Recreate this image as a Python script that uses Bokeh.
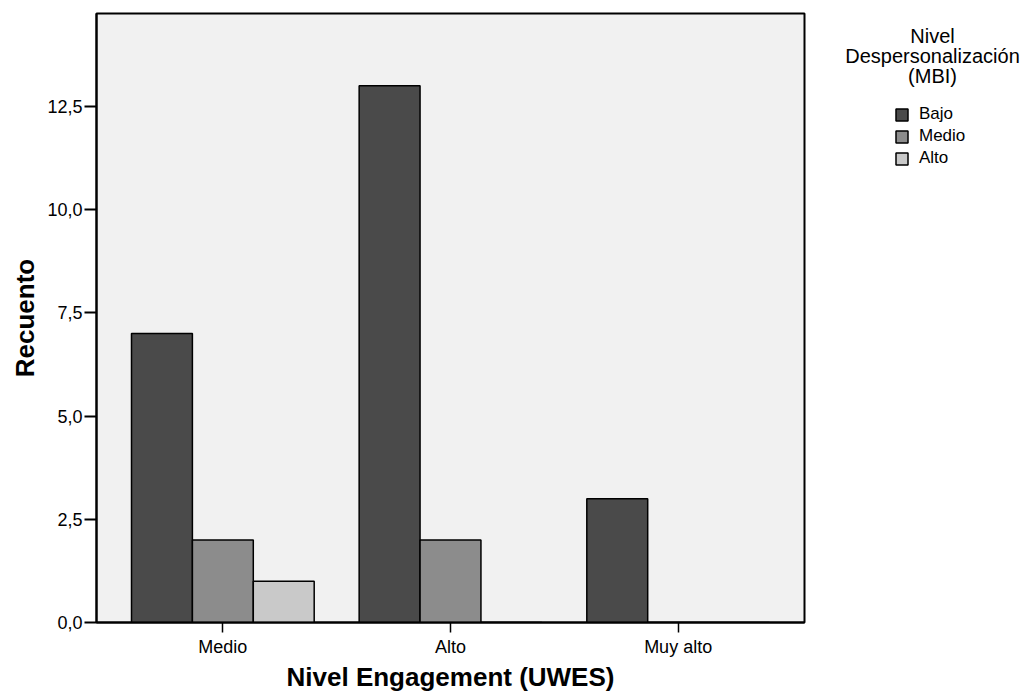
from bokeh.plotting import figure
from bokeh.layouts import row
from bokeh.models import (ColumnDataSource, FactorRange, Range1d, FixedTicker,
                          CustomJSTickFormatter, Legend, LegendItem, Label)
from bokeh.transform import dodge
from bokeh.embed import file_html
from bokeh.resources import INLINE

# ---- data ----
categories = ["Medio", "Alto", "Muy alto"]
bajo = [7, 13, 3]
medio = [2, 2, 0]
alto = [1, 0, 0]
series_names = ["Bajo", "Medio", "Alto"]
y_ticks = [0, 2.5, 5, 7.5, 10, 12.5]
legend_title = ["Nivel", "Despersonalización", "(MBI)"]

FONT = "Liberation Sans"
colors = ["#4a4a4a", "#8c8c8c", "#c9c9c9"]

src = ColumnDataSource(dict(cat=categories, bajo=bajo, medio=medio, alto=alto))

p = figure(x_range=FactorRange(factors=categories, range_padding=0.055,
                               range_padding_units="absolute"),
           y_range=Range1d(0, 14.75),
           width=830, height=695,
           output_backend="svg", toolbar_location=None,
           min_border_left=96, min_border_right=26,
           min_border_top=13, min_border_bottom=73)

p.background_fill_color = "#f1f1f1"
p.border_fill_color = "white"
p.outline_line_color = "black"
p.outline_line_width = 2
p.xgrid.visible = False
p.ygrid.visible = False

bw = 0.2675
keys = ["bajo", "medio", "alto"]
offsets = [-bw, 0.0, bw]
for k, off, c in zip(keys, offsets, colors):
    p.vbar(x=dodge("cat", off, range=p.x_range), top=k, width=bw,
           source=src, fill_color=c, line_color="black", line_width=1.5)

# y axis
yax = p.yaxis[0]
yax.ticker = FixedTicker(ticks=y_ticks)
yax.formatter = CustomJSTickFormatter(code="return tick.toFixed(1).replace('.', ',');")
yax.axis_label = "Recuento"
yax.axis_label_text_font = FONT
yax.axis_label_text_font_style = "bold"
yax.axis_label_text_font_size = "26px"
yax.axis_label_text_color = "black"
yax.axis_label_standoff = 4
yax.major_label_text_font = FONT
yax.major_label_text_font_size = "18px"
yax.major_label_text_color = "black"
yax.major_label_standoff = 2
yax.major_tick_out = 12
yax.major_tick_in = 0
yax.major_tick_line_width = 2
yax.minor_tick_line_color = None
yax.axis_line_width = 2
yax.axis_line_color = "black"

# x axis
xax = p.xaxis[0]
xax.axis_label = "Nivel Engagement (UWES)"
xax.axis_label_text_font = FONT
xax.axis_label_text_font_style = "bold"
xax.axis_label_text_font_size = "26px"
xax.axis_label_text_color = "black"
xax.axis_label_standoff = 2
xax.major_label_text_font = FONT
xax.major_label_text_font_size = "18px"
xax.major_label_text_color = "black"
xax.major_label_standoff = 4
xax.major_tick_out = 10
xax.major_tick_in = 0
xax.major_tick_line_width = 1.5
xax.axis_line_width = 2
xax.axis_line_color = "black"

# ---- legend panel (separate figure to the right of the plot) ----
lg = figure(width=203, height=695, output_backend="svg", toolbar_location=None,
            min_border=0, x_range=FactorRange(factors=categories),
            y_range=Range1d(0, 14.75))
lg.axis.visible = False
lg.grid.visible = False
lg.outline_line_color = None
lg.background_fill_color = "white"
lg.border_fill_color = "white"

items = []
for n, k, c in zip(series_names, keys, colors):
    r = lg.vbar(x="cat", top=k, width=0.2, source=src,
                fill_color=c, line_color="black", line_width=1.5)
    r.visible = False  # only feeds the legend swatch
    items.append(LegendItem(label=n, renderers=[r]))

legend = Legend(items=items, location=(64, 454))
legend.background_fill_alpha = 0
legend.border_line_alpha = 0
legend.inactive_fill_alpha = 0
legend.padding = 0
legend.margin = 0
legend.spacing = 2
legend.glyph_width = 15
legend.glyph_height = 15
legend.label_standoff = 10
legend.label_text_font = FONT
legend.label_text_font_size = "17px"
legend.label_text_color = "black"
legend.click_policy = "none"
lg.add_layout(legend)

for i, t in enumerate(legend_title):
    lg.add_layout(Label(x=102, y=587 - 20 * i, x_units="screen", y_units="screen",
                        text=t, text_align="center", text_baseline="middle",
                        text_font=FONT, text_font_size="20px", text_color="black"))

layout = row(p, lg, spacing=0)
open("out.html", "w").write(file_html(layout, INLINE))
